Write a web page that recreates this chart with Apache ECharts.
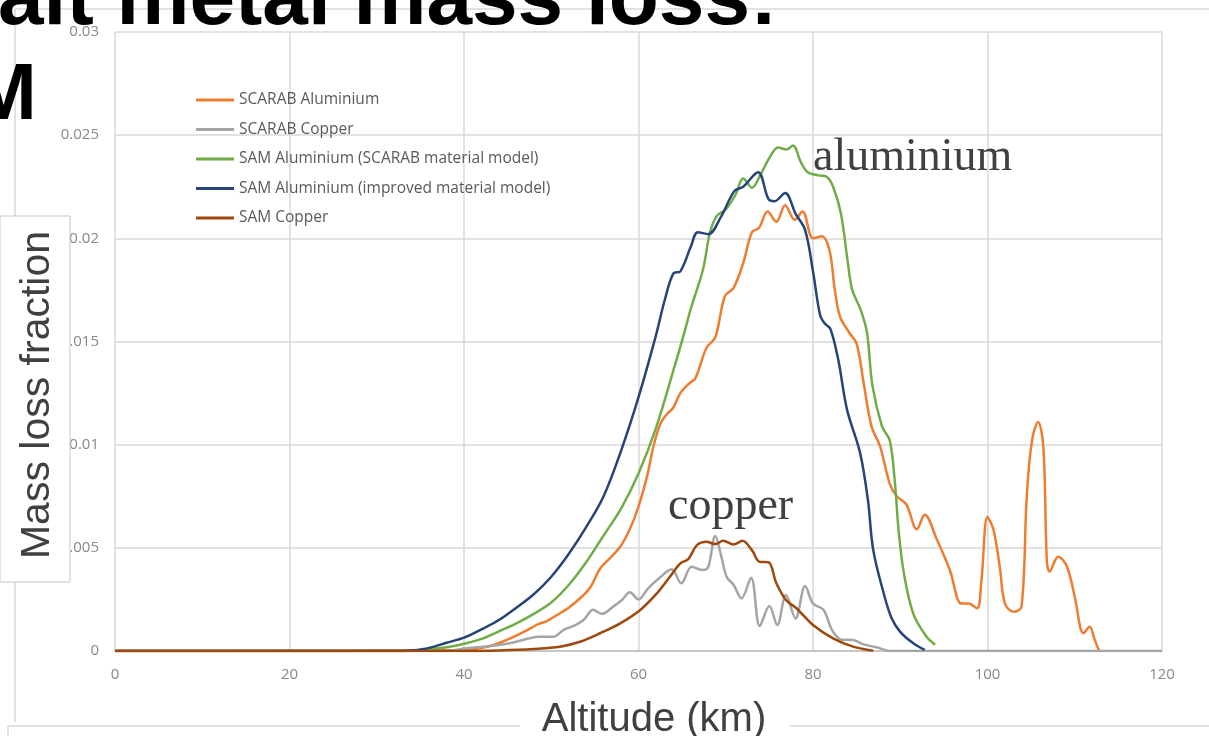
<!DOCTYPE html>
<html>
<head>
<meta charset="utf-8">
<script src="https://cdn.jsdelivr.net/npm/echarts@6/dist/echarts.min.js"></script>
<style>
html,body{margin:0;padding:0;background:#fff;}
#chart{width:1209px;height:736px;}
</style>
</head>
<body>
<div id="chart"></div>
<script>
// ---- Data (altitude in km, mass loss fraction) ----
const seriesNames = [
  'SCARAB Aluminium',
  'SCARAB Copper',
  'SAM Aluminium (SCARAB material model)',
  'SAM Aluminium (improved material model)',
  'SAM Copper'
];
const xTicks = [0, 20, 40, 60, 80, 100, 120];
const yTicks = [0, 0.005, 0.01, 0.015, 0.02, 0.025, 0.03];

const scarabAlX = [0, 40, 42, 43.4, 45.3, 47.2, 48.5, 49.5, 51, 52, 53.5, 54.5, 55.6, 56.5, 57.9, 59, 60, 61, 61.7, 62.5, 63.3, 64, 64.8, 65.9, 66.5, 67.8, 68.8, 69.9, 70.9, 72, 73, 73.8, 74.8, 75.8, 76.8, 77.9, 78.8, 80, 81, 81.9, 82.5, 83.1, 84.2, 85, 85.8, 86.7, 87.7, 88.8, 89.6, 90.7, 91.9, 92.8, 94.2, 95.7, 97, 97.8, 98.8, 99.3, 100, 100.7, 101.4, 102, 103, 103.9, 104.5, 105.1, 105.8, 106.4, 106.8, 107.1, 108.1, 109.1, 110, 111, 111.7, 112.3, 112.8];
const scarabAlY = [0, 0.00005, 0.00015, 0.00029, 0.00061, 0.001, 0.0013, 0.00145, 0.00183, 0.0021, 0.00263, 0.0031, 0.004, 0.0044, 0.00505, 0.0059, 0.007, 0.0085, 0.0099, 0.011, 0.0115, 0.0118, 0.0125, 0.013, 0.0132, 0.0147, 0.0152, 0.0172, 0.0176, 0.0188, 0.0203, 0.0205, 0.0213, 0.0208, 0.0216, 0.0209, 0.0213, 0.02, 0.0201, 0.0194, 0.0175, 0.0162, 0.0154, 0.0149, 0.013, 0.0109, 0.0099, 0.0081, 0.0075, 0.0071, 0.0059, 0.0066, 0.0054, 0.0039, 0.0023, 0.0023, 0.00207, 0.0034, 0.0065, 0.00585, 0.0041, 0.0023, 0.0019, 0.00215, 0.0075, 0.0102, 0.0111, 0.0099, 0.0044, 0.00385, 0.00457, 0.0041, 0.00263, 0.00086, 0.00118, 0.00053, 0];

const scarabCuX = [0, 38, 40, 42, 44, 46, 47.5, 48.7, 50.2, 51.5, 52.5, 53.7, 54.8, 55.8, 57.1, 58.1, 59, 60, 61.1, 62.3, 63.8, 64.9, 66.1, 67.4, 68, 68.8, 69.5, 70.1, 70.9, 71.8, 72.9, 73.9, 75, 75.9, 76.9, 78, 79.1, 80, 81.2, 82.2, 83.3, 84.6, 85.8, 87.3, 88.8, 120];
const scarabCuY = [0, 0, 0.00012, 0.0002, 0.00029, 0.00045, 0.00062, 0.00069, 0.00069, 0.00105, 0.0012, 0.0015, 0.002, 0.0018, 0.00215, 0.00247, 0.00285, 0.0025, 0.00304, 0.0035, 0.00396, 0.00328, 0.00408, 0.00392, 0.00408, 0.00557, 0.00457, 0.0036, 0.0032, 0.00255, 0.00355, 0.00121, 0.00218, 0.00126, 0.00271, 0.00158, 0.00315, 0.0023, 0.002, 0.001, 0.00055, 0.00053, 0.00032, 0.00018, 0, 0];

const samAlScarabX = [0, 33, 34.6, 36, 38.4, 40, 42.2, 44, 46, 48, 50, 52, 54, 56, 58, 60, 62, 64, 65.3, 66, 67.4, 68.2, 69, 70, 71.1, 72, 73, 74, 75, 76, 77, 77.7, 78.6, 79.4, 80.6, 81.5, 82.3, 83.2, 84, 84.5, 85.5, 86.2, 86.8, 87.9, 88.8, 89.4, 89.8, 90.4, 91.5, 93, 94];
const samAlScarabY = [0, 0, 0.00002, 0.00008, 0.00021, 0.00035, 0.00061, 0.00095, 0.00134, 0.0018, 0.00235, 0.0032, 0.0043, 0.0056, 0.0069, 0.0086, 0.0108, 0.0136, 0.0155, 0.0166, 0.0185, 0.0203, 0.0211, 0.0214, 0.0221, 0.0229, 0.02245, 0.0231, 0.0239, 0.0244, 0.0243, 0.0245, 0.0237, 0.0232, 0.02305, 0.023, 0.0225, 0.0212, 0.0188, 0.0175, 0.0165, 0.0154, 0.0129, 0.0109, 0.0102, 0.0081, 0.0059, 0.0038, 0.0018, 0.0007, 0.0003];

const samAlImprX = [0, 33, 34, 36, 38, 40, 42, 44, 46, 48, 50, 52, 54, 56, 58, 60, 62, 63, 64, 64.8, 66, 66.8, 68, 69.4, 71, 72, 73.7, 74.9, 75.6, 76.8, 78, 79.1, 80, 80.8, 81.3, 82, 82.9, 83.9, 85.4, 86.3, 86.9, 88.1, 89, 90, 91.5, 92.8];
const samAlImprY = [0, 0, 0.00002, 0.00015, 0.0004, 0.00065, 0.00105, 0.0015, 0.0021, 0.00275, 0.0036, 0.0047, 0.006, 0.0075, 0.0097, 0.0123, 0.0153, 0.017, 0.0183, 0.0184, 0.0196, 0.0203, 0.0202, 0.021, 0.0223, 0.0225, 0.0232, 0.0219, 0.0218, 0.0222, 0.0212, 0.0204, 0.0184, 0.0163, 0.0159, 0.0156, 0.0141, 0.0117, 0.0096, 0.0073, 0.0049, 0.0028, 0.0016, 0.00093, 0.00037, 0.00005];

const samCuX = [0, 40, 44, 48, 51, 53.3, 55.6, 57.9, 60.2, 62.1, 63.6, 64.8, 65.7, 66.7, 67.8, 68.8, 69.7, 70.9, 71.9, 73, 73.9, 74.9, 75.8, 76.9, 78.1, 80, 82.3, 84.6, 86.9];
const samCuY = [0, 0, 0.00003, 0.0001, 0.00021, 0.00045, 0.00086, 0.00134, 0.00199, 0.00279, 0.0036, 0.00425, 0.00445, 0.00513, 0.00529, 0.00518, 0.00534, 0.00516, 0.00534, 0.00489, 0.00432, 0.0043, 0.00328, 0.00247, 0.00207, 0.00126, 0.00061, 0.00021, 0.00001];

const seriesColors = ['#ED7D31', '#A5A5A5', '#70AD47', '#264478', '#9E480E'];

// ---- Build ----
function pairs(xs, ys) { return xs.map((x, i) => [x, ys[i]]); }
const dataSets = [
  pairs(scarabAlX, scarabAlY),
  pairs(scarabCuX, scarabCuY),
  pairs(samAlScarabX, samAlScarabY),
  pairs(samAlImprX, samAlImprY),
  pairs(samCuX, samCuY)
];

const chart = echarts.init(document.getElementById('chart'), null, {renderer: 'canvas'});
const gridColor = '#d9d9d9';
const tickFont = {fontFamily: '"Open Sans"', fontSize: 15, color: '#888888'};

const option = {
  animation: false,
  backgroundColor: '#ffffff',
  grid: {left: 115, right: 47, top: 32, bottom: 85, containLabel: false},
  xAxis: {
    type: 'value',
    min: xTicks[0], max: xTicks[xTicks.length - 1], interval: 20,
    axisLine: {show: true, lineStyle: {color: '#bfbfbf', width: 1.5}},
    axisTick: {show: false},
    splitLine: {show: true, lineStyle: {color: gridColor, width: 1.5}},
    axisLabel: Object.assign({margin: 16}, tickFont)
  },
  yAxis: {
    type: 'value',
    min: yTicks[0], max: yTicks[yTicks.length - 1], interval: 0.005,
    axisLine: {show: false},
    axisTick: {show: false},
    splitLine: {show: true, lineStyle: {color: gridColor, width: 1.5}},
    axisLabel: Object.assign({margin: 16, formatter: v => String(+v.toFixed(3))}, tickFont)
  },
  legend: {
    orient: 'vertical', left: 191, top: 87,
    icon: 'rect', itemWidth: 38, itemHeight: 3, itemGap: 13.5,
    textStyle: {fontFamily: '"Open Sans"', fontSize: 15.5, color: '#595959', lineHeight: 16},
    data: seriesNames
  },
  series: seriesNames.map((name, i) => ({
    name: name,
    type: 'line',
    data: dataSets[i],
    smooth: 0.35,
    showSymbol: false,
    symbol: 'none',
    lineStyle: {color: seriesColors[i], width: 2.5},
    itemStyle: {color: seriesColors[i]},
    z: 2 + i
  })),
  graphic: [
    // slide frame lines
    {type: 'line', z: 50, shape: {x1: 15, y1: 9, x2: 1209, y2: 9}, style: {stroke: '#d9d9d9', lineWidth: 1.5}},
    {type: 'line', z: 50, shape: {x1: 15, y1: 9, x2: 15, y2: 722}, style: {stroke: '#d9d9d9', lineWidth: 1.5}},
    {type: 'line', z: 50, shape: {x1: 8, y1: 726, x2: 1209, y2: 726}, style: {stroke: '#d9d9d9', lineWidth: 1.5}},
    {type: 'line', z: 50, shape: {x1: 8, y1: 726, x2: 8, y2: 736}, style: {stroke: '#d9d9d9', lineWidth: 1.5}},
    // title fragments (top-aligned; baseline = top + 0.81 * size)
    {type: 'text', z: 60, style: {text: 'ait metal mass loss:', x: -2, y: -40, fill: '#000', font: 'bold 82px "Liberation Sans", Arial, sans-serif', verticalAlign: 'top'}},
    {type: 'text', z: 60, style: {text: 'SAM', x: 37, y: 57, align: 'right', fill: '#000', font: 'bold 80px "Liberation Sans", Arial, sans-serif', verticalAlign: 'top'}},
    // y title box
    {type: 'rect', z: 70, shape: {x: 0, y: 216, width: 70, height: 366}, style: {fill: '#fff', stroke: '#c8c8c8', lineWidth: 1}},
    {type: 'text', z: 71, x: 17, y: 395, rotation: Math.PI / 2,
      style: {text: 'Mass loss fraction', x: 0, y: 0, align: 'center', verticalAlign: 'top', fill: '#404040', font: '41px "Liberation Sans", Arial, sans-serif'}},
    // x title box
    {type: 'rect', z: 70, shape: {x: 520, y: 698, width: 270, height: 38}, style: {fill: '#fff'}},
    {type: 'text', z: 71, style: {text: 'Altitude (km)', x: 654, y: 700, align: 'center', verticalAlign: 'top', fill: '#404040', font: '40px "Liberation Sans", Arial, sans-serif'}},
    // annotations
    {type: 'text', z: 60, style: {text: 'aluminium', x: 813, y: 135, verticalAlign: 'top', fill: '#404040', font: '46px "Liberation Serif", "DejaVu Serif", serif'}},
    {type: 'text', z: 60, style: {text: 'copper', x: 668, y: 484, verticalAlign: 'top', fill: '#404040', font: '46px "Liberation Serif", "DejaVu Serif", serif'}}
  ]
};
chart.setOption(option);
</script>
</body>
</html>
